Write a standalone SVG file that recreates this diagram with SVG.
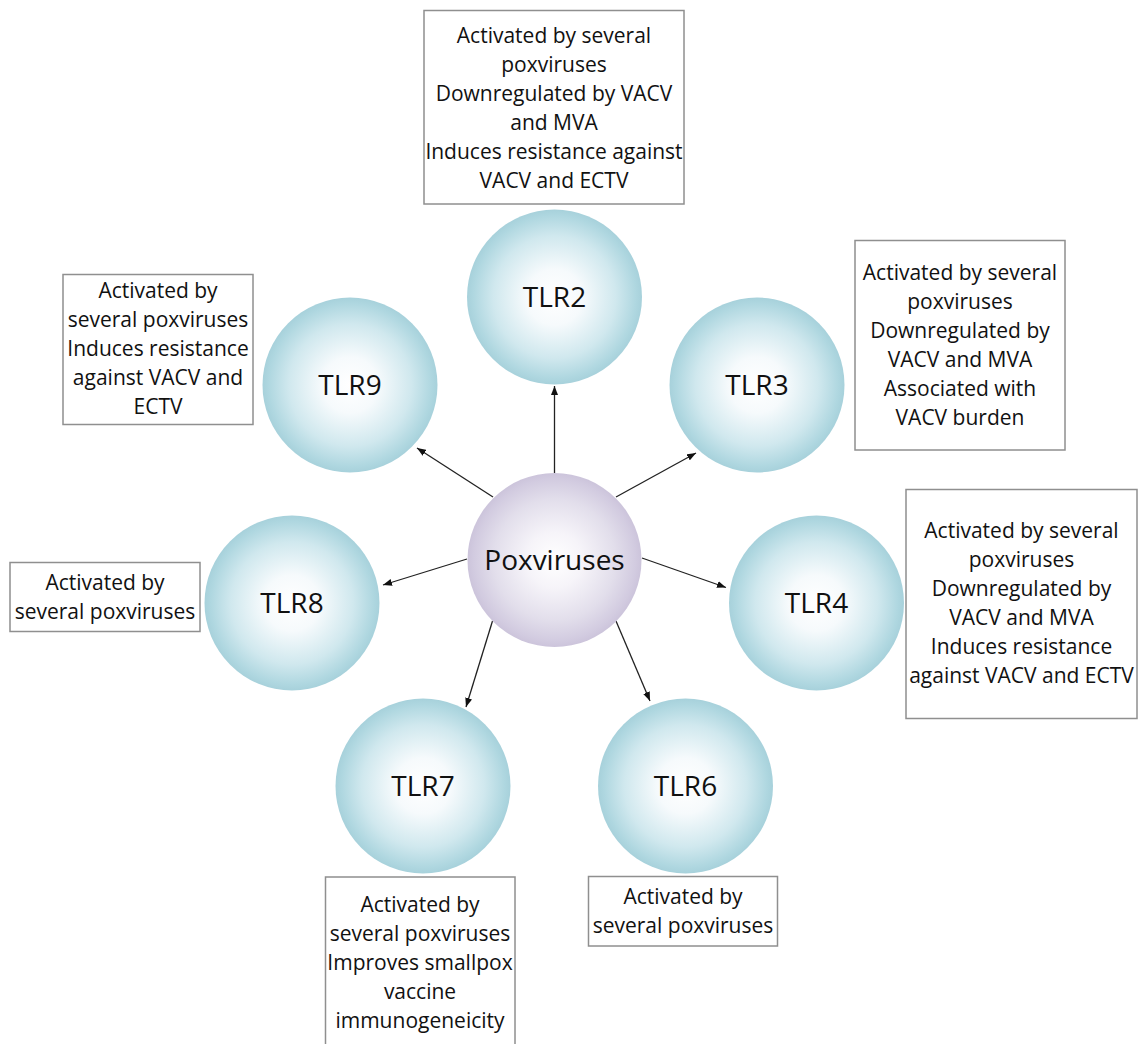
<svg xmlns="http://www.w3.org/2000/svg" width="1144" height="1044" viewBox="0 0 1144 1044">
<defs>
<radialGradient id="gBlue" cx="50%" cy="50%" r="50%">
<stop offset="0%" stop-color="#ffffff"/>
<stop offset="32%" stop-color="#f6fafc"/>
<stop offset="70%" stop-color="#d0e8ee"/>
<stop offset="93%" stop-color="#afd7e0"/>
<stop offset="100%" stop-color="#a7d1db"/>
</radialGradient>
<radialGradient id="gPurple" cx="50%" cy="50%" r="50%">
<stop offset="0%" stop-color="#ffffff"/>
<stop offset="32%" stop-color="#f6f4f9"/>
<stop offset="70%" stop-color="#e2deeb"/>
<stop offset="93%" stop-color="#d2cbe0"/>
<stop offset="100%" stop-color="#ccc4db"/>
</radialGradient>
<marker id="arr" markerUnits="userSpaceOnUse" markerWidth="9" markerHeight="7" refX="9" refY="3.5" orient="auto">
<path d="M0,0 L9,3.5 L0,7 z" fill="#111"/>
</marker>
</defs>
<style>
.node{font-family:"Open Sans","Noto Sans",sans-serif;font-size:28px;fill:#111;text-anchor:middle}
.box{fill:#fff;stroke:#8f8f8f;stroke-width:1.5}
.bt{font-family:"Open Sans","Noto Sans",sans-serif;font-size:21px;fill:#111;text-anchor:middle}
.conn{stroke:#222;stroke-width:1.3;fill:none;marker-end:url(#arr)}
</style>
<rect width="1144" height="1044" fill="#fff"/>

<g id="connectors">
<line class="conn" x1="554.5" y1="473" x2="554.5" y2="386"/>
<line class="conn" x1="616" y1="497" x2="696" y2="453"/>
<line class="conn" x1="642" y1="558" x2="726" y2="587.5"/>
<line class="conn" x1="616" y1="621" x2="650" y2="701"/>
<line class="conn" x1="492.5" y1="621" x2="466" y2="707"/>
<line class="conn" x1="467" y1="559" x2="383" y2="585"/>
<line class="conn" x1="493" y1="497" x2="417" y2="448"/>
</g>

<g id="poxviruses">
<circle cx="554.5" cy="560" r="87" fill="url(#gPurple)"/>
<text class="node" x="554.5" y="570">Poxviruses</text>
</g>

<g id="tlr2">
<circle cx="554.5" cy="297" r="87.5" fill="url(#gBlue)"/>
<text class="node" x="554.5" y="307">TLR2</text>
</g>
<g id="tlr3">
<circle cx="757" cy="385" r="87.5" fill="url(#gBlue)"/>
<text class="node" x="757" y="395">TLR3</text>
</g>
<g id="tlr4">
<circle cx="816.5" cy="603" r="87.5" fill="url(#gBlue)"/>
<text class="node" x="816.5" y="613">TLR4</text>
</g>
<g id="tlr6">
<circle cx="685.5" cy="786" r="87.5" fill="url(#gBlue)"/>
<text class="node" x="685.5" y="796">TLR6</text>
</g>
<g id="tlr7">
<circle cx="423" cy="786" r="87.5" fill="url(#gBlue)"/>
<text class="node" x="423" y="796">TLR7</text>
</g>
<g id="tlr8">
<circle cx="292" cy="603" r="87.5" fill="url(#gBlue)"/>
<text class="node" x="292" y="613">TLR8</text>
</g>
<g id="tlr9">
<circle cx="350" cy="385" r="87.5" fill="url(#gBlue)"/>
<text class="node" x="350" y="395">TLR9</text>
</g>

<g id="box-tlr2">
<rect class="box" x="424" y="10.5" width="260" height="193.5"/>
<text class="bt" x="554" y="43">Activated by several</text>
<text class="bt" x="554" y="72">poxviruses</text>
<text class="bt" x="554" y="101">Downregulated by VACV</text>
<text class="bt" x="554" y="130">and MVA</text>
<text class="bt" x="554" y="159">Induces resistance against</text>
<text class="bt" x="554" y="188">VACV and ECTV</text>
</g>
<g id="box-tlr3">
<rect class="box" x="855" y="240.5" width="210" height="209.5"/>
<text class="bt" x="960" y="280">Activated by several</text>
<text class="bt" x="960" y="309">poxviruses</text>
<text class="bt" x="960" y="338">Downregulated by</text>
<text class="bt" x="960" y="367">VACV and MVA</text>
<text class="bt" x="960" y="396">Associated with</text>
<text class="bt" x="960" y="425">VACV burden</text>
</g>
<g id="box-tlr4">
<rect class="box" x="906" y="489.5" width="231" height="229"/>
<text class="bt" x="1021.5" y="538">Activated by several</text>
<text class="bt" x="1021.5" y="567">poxviruses</text>
<text class="bt" x="1021.5" y="596">Downregulated by</text>
<text class="bt" x="1021.5" y="625">VACV and MVA</text>
<text class="bt" x="1021.5" y="654">Induces resistance</text>
<text class="bt" x="1021.5" y="683">against VACV and ECTV</text>
</g>
<g id="box-tlr6">
<rect class="box" x="588.5" y="876.5" width="189" height="69.5"/>
<text class="bt" x="683" y="904">Activated by</text>
<text class="bt" x="683" y="933">several poxviruses</text>
</g>
<g id="box-tlr7">
<rect class="box" x="325.5" y="877" width="189.5" height="175"/>
<text class="bt" x="420" y="912">Activated by</text>
<text class="bt" x="420" y="941">several poxviruses</text>
<text class="bt" x="420" y="970">Improves smallpox</text>
<text class="bt" x="420" y="999">vaccine</text>
<text class="bt" x="420" y="1028">immunogeneicity</text>
</g>
<g id="box-tlr8">
<rect class="box" x="10" y="562.5" width="190" height="69"/>
<text class="bt" x="105" y="589.5">Activated by</text>
<text class="bt" x="105" y="618.5">several poxviruses</text>
</g>
<g id="box-tlr9">
<rect class="box" x="63" y="274.5" width="190" height="150"/>
<text class="bt" x="158" y="298">Activated by</text>
<text class="bt" x="158" y="327">several poxviruses</text>
<text class="bt" x="158" y="356">Induces resistance</text>
<text class="bt" x="158" y="385">against VACV and</text>
<text class="bt" x="158" y="414">ECTV</text>
</g>
</svg>
